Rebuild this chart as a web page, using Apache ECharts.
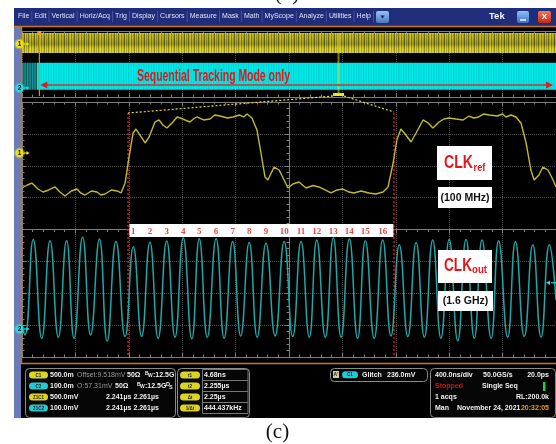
<!DOCTYPE html>
<html>
<head>
<meta charset="utf-8">
<script src="https://cdn.jsdelivr.net/npm/echarts@6/dist/echarts.min.js"></script>
<style>
  html, body { margin: 0; padding: 0; background: #fff; }
  #scope { width: 556px; height: 444px; }
</style>
</head>
<body>
<div id="scope"></div>
<script>
// ---- acquired data -------------------------------------------------------
// CH1, CLKref (100 MHz): [time ns, amplitude mV], zoomed window
const clkRef = [
  [-10.00,-549],[-9.80,-502],[-9.63,-471],[-9.40,-565],[-9.21,-612],[-9.00,-580],[-8.76,-533],
  [-8.58,-612],[-8.39,-675],[-8.15,-596],[-7.94,-565],[-7.80,-627],[-7.64,-659],[-7.40,-596],
  [-7.19,-612],[-7.05,-659],[-6.89,-643],[-6.65,-580],[-6.44,-596],[-6.29,-627],[-6.14,-471],
  [-5.99,-63],[-5.84,314],[-5.73,376],[-5.58,282],[-5.39,157],[-5.24,251],
  [-5.02,486],[-4.87,518],[-4.72,439],[-4.57,392],[-4.38,471],[-4.19,565],
  [-3.97,533],[-3.71,486],[-3.58,533],[-3.45,565],[-3.20,518],[-2.96,533],[-2.78,596],[-2.58,580],
  [-2.30,549],[-2.10,565],[-1.85,596],[-1.70,565],[-1.57,612],[-1.39,549],[-1.20,361],
  [-1.05,0],[-0.90,-376],[-0.79,-424],[-0.56,-220],[-0.37,-267],[-0.22,-392],
  [-0.04,-549],[0.15,-486],[0.37,-455],[0.64,-549],[0.90,-510],[1.12,-533],
  [1.35,-580],[1.57,-627],[1.80,-580],[2.02,-565],[2.25,-612],[2.43,-627],[2.70,-596],[3.00,-627],
  [3.25,-643],[3.52,-612],[3.71,-533],[3.90,-157],[4.04,204],[4.19,376],[4.38,282],
  [4.57,173],[4.76,314],[5.02,518],[5.21,471],[5.39,392],[5.62,486],
  [5.80,533],[5.99,549],[6.25,533],[6.52,518],[6.74,580],[6.92,549],[7.10,565],[7.30,612],[7.49,596],
  [7.80,580],[8.00,612],[8.13,565],[8.32,596],[8.50,565],[8.69,471],[8.88,157],[9.06,-267],
  [9.18,-424],[9.36,-345],[9.51,-220],[9.70,-267],[9.89,-424],[10.00,-533]
];

// CH2, CLKout (1.6 GHz): turning points of the sine, [time ns, amplitude mV]
const clkOut = [
  [-10.00,3],[-9.89,-19],[-9.58,281],[-9.26,-29],[-8.95,277],[-8.64,-26],
  [-8.33,277],[-8.05,-29],[-7.73,288],[-7.43,-19],[-7.10,282],[-6.81,-38],
  [-6.48,274],[-6.14,-24],[-5.83,258],[-5.52,-24],[-5.21,272],[-4.90,-29],
  [-4.58,276],[-4.27,-26],[-3.96,285],[-3.64,-31],[-3.36,283],[-3.06,-26],
  [-2.73,283],[-2.43,-29],[-2.11,274],[-1.81,-22],[-1.49,271],[-1.19,-26],
  [-0.86,269],[-0.52,-22],[-0.18,274],[0.14,-24],[0.45,274],[0.76,-26],
  [1.04,279],[1.36,-26],[1.66,285],[1.95,-26],[2.26,282],[2.57,-29],
  [2.86,277],[3.19,-29],[3.51,279],[3.82,-22],[4.13,264],[4.45,-24],
  [4.76,271],[5.07,-26],[5.38,279],[5.69,-29],[6.00,281],[6.32,-37],
  [6.63,281],[6.94,-29],[7.23,279],[7.57,-29],[7.85,277],[8.19,-26],
  [8.48,274],[8.81,-24],[9.13,264],[9.44,-26],[9.75,264],[10.00,91]
];

// rising edges of CLKref (red cursors), ns
const edgeTime = [-6.03, 3.93];
// CH2 trigger level, mV
const ch2TriggerMv = 145;

// overview record, ns
const recordNs = [0, 4000];
const triggerNs = 130;
const zoomWindowNs = [2330, 2412];
// overview envelopes, mV
const refEnvelope = [-500, 600];
const outEnvelope = [-20, 280];

// ---- texts ---------------------------------------------------------------
const menuItems = ['File','Edit','Vertical','Horiz/Acq','Trig','Display','Cursors',
  'Measure','Mask','Math','MyScope','Analyze','Utilities','Help'];
const cursorNames = ['t1', 't2', '\u0394t', '1/\u0394t'];
const cursorValues = ['4.68ns', '2.255\u00b5s', '2.25\u00b5s', '444.437kHz'];

const SANS = '"Liberation Sans", Arial, sans-serif';
const SERIF = '"Liberation Serif", "Times New Roman", serif';

const chart = echarts.init(document.getElementById('scope'), null, { renderer: 'canvas' });

// ---- helpers -------------------------------------------------------------
function stripePattern(cols) {
  const c = document.createElement('canvas');
  c.width = cols.length; c.height = 4;
  const g = c.getContext('2d');
  cols.forEach((col, i) => { g.fillStyle = col; g.fillRect(i, 0, 1, 4); });
  return { image: c, repeat: 'repeat' };
}
const yellowFill = stripePattern(['#d6ce2c','#8c881a','#c9c128','#b2ac22','#6c6812',
  '#d2ca2a','#9e981e','#c6be26','#7a7616','#bab424']);
const tealFill = stripePattern(['#14828a','#0a5c64','#1a9298','#0e6c72','#127a80']);
const cyanFill = stripePattern(['#00e6e6','#00dcdc','#04e8e8','#00d4d6','#00e2e2']);

const frame = '#7d7d7d';
const dots = '#505050';
function frameAxis(extra) {
  return Object.assign({
    type: 'value',
    axisLine: { show: true, onZero: false, lineStyle: { color: frame, width: 1 } },
    axisTick: { show: true, inside: true, length: 4, lineStyle: { color: frame } },
    minorTick: { show: true, splitNumber: 5, length: 2.5, lineStyle: { color: frame } },
    axisLabel: { show: false },
    splitLine: { show: false }
  }, extra);
}
const dotted = { show: true, lineStyle: { color: dots, type: 'dotted', width: 1 } };

function bandRenderer(fill, overlay) {
  return function (params, api) {
    const a = api.coord([api.value(0), api.value(3)]);
    const b = api.coord([api.value(1), api.value(2)]);
    const shape = { x: a[0], y: a[1], width: b[0] - a[0], height: b[1] - a[1] };
    const kids = [{ type: 'rect', shape, style: { fill: api.value(4) === 1 ? tealFill : fill } }];
    if (overlay) kids.push({ type: 'rect', shape, style: { fill: overlay } });
    return { type: 'group', children: kids };
  };
}

const cyclePeaks = clkOut.filter(p => p[1] > 150 && p[0] > edgeTime[0] && p[0] < edgeTime[1]);
const numberRowMv = 305;

chart.setOption({
  backgroundColor: '#fff',
  animation: false,
  textStyle: { fontFamily: SANS },
  grid: [
    { left: 22, top: 102, width: 534, height: 255, outerBoundsMode: 'none' },
    { left: 22, top: 31, width: 534, height: 66, outerBoundsMode: 'none' }
  ],
  xAxis: [
    frameAxis({ gridIndex: 0, min: -10, max: 10, interval: 2, position: 'bottom', splitLine: dotted }),
    frameAxis({ gridIndex: 0, min: -10, max: 10, interval: 2, position: 'top' }),
    frameAxis({ gridIndex: 0, min: -10, max: 10, interval: 2,
      axisLine: { show: true, onZero: true, onZeroAxisIndex: 0, lineStyle: { color: frame } } }),
    frameAxis({ gridIndex: 1, min: recordNs[0], max: recordNs[1], interval: 400, position: 'bottom', splitLine: dotted }),
    frameAxis({ gridIndex: 1, min: recordNs[0], max: recordNs[1], interval: 400, position: 'top' })
  ],
  yAxis: [
    frameAxis({ gridIndex: 0, min: -4, max: 4, interval: 1, position: 'left', splitLine: dotted }),
    frameAxis({ gridIndex: 0, min: -4, max: 4, interval: 1,
      axisLine: { show: true, onZero: true, onZeroAxisIndex: 0, lineStyle: { color: frame } } }),
    { gridIndex: 0, type: 'value', min: -3200, max: 800, show: false },
    { gridIndex: 0, type: 'value', min: -88, max: 712, show: false },
    { gridIndex: 1, type: 'value', min: -2915, max: 715, show: false },
    { gridIndex: 1, type: 'value', min: -100, max: 631, show: false }
  ],
  series: [
    {
      name: 'CLKref', type: 'line', xAxisIndex: 0, yAxisIndex: 2, data: clkRef,
      symbol: 'none', z: 5,
      lineStyle: { color: '#c2ba2a', width: 1.4 },
      markLine: {
        silent: true, symbol: 'none', label: { show: false },
        lineStyle: { color: '#e8121a', type: [2, 2], width: 1.5 },
        data: edgeTime.map(t => [{ coord: [t, 627] }, { coord: [t, -3200] }])
      }
    },
    {
      name: 'CLKout', type: 'line', xAxisIndex: 0, yAxisIndex: 3, data: clkOut,
      symbol: 'none', smooth: 0.5, z: 5,
      lineStyle: { color: '#1fa8a8', width: 1.5 }
    },
    {
      name: 'cycles', type: 'scatter', xAxisIndex: 0, yAxisIndex: 3, z: 30,
      data: cyclePeaks.map(p => [p[0], numberRowMv]),
      symbolSize: 1, itemStyle: { color: 'rgba(0,0,0,0)' },
      label: { show: true, position: 'inside', formatter: p => String(p.dataIndex + 1),
        color: '#e01818', fontFamily: SERIF, fontSize: 9, fontWeight: 'bold' }
    },
    {
      name: 'CH1 record', type: 'custom', xAxisIndex: 3, yAxisIndex: 4, z: 3,
      data: [[recordNs[0], recordNs[1], refEnvelope[0], refEnvelope[1], 0]],
      renderItem: bandRenderer(yellowFill, new echarts.graphic.LinearGradient(0, 0, 0, 1, [
        { offset: 0, color: 'rgba(255,250,90,0.25)' },
        { offset: 0.2, color: 'rgba(0,0,0,0.05)' },
        { offset: 0.55, color: 'rgba(0,0,0,0.2)' },
        { offset: 0.75, color: 'rgba(255,250,60,0.2)' },
        { offset: 1, color: 'rgba(255,250,60,0.3)' }
      ]))
    },
    {
      name: 'CH2 record', type: 'custom', xAxisIndex: 3, yAxisIndex: 5, z: 3,
      data: [
        [recordNs[0], 112, outEnvelope[0], outEnvelope[1], 1],
        [112, recordNs[1], outEnvelope[0], outEnvelope[1], 0]
      ],
      renderItem: bandRenderer(cyanFill, null)
    }
  ]
});

// ---- screen furniture ----------------------------------------------------
const px = t => chart.convertToPixel({ xAxisIndex: 0 }, t);
const opx = t => chart.convertToPixel({ xAxisIndex: 3 }, t);
const py = (axis, v) => chart.convertToPixel({ yAxisIndex: axis }, v);
const meas = document.createElement('canvas').getContext('2d');
function textWidth(font, s) { meas.font = font; return meas.measureText(s).width; }

function T(x, y, text, o) {
  o = o || {};
  const font = (o.weight || 'bold') + ' ' + (o.size || 7) + 'px ' + (o.family || SANS);
  const el = { type: 'text', x, y, z: o.z || 60, silent: true,
    style: { text, fill: o.color || '#f0f0f0', font,
      align: o.align || 'left', verticalAlign: o.valign || 'middle' } };
  // condensed lettering: squeeze the run to the given width
  if (o.fitWidth) el.scaleX = o.fitWidth / textWidth(font, text);
  return el;
}
function R(x, y, w, h, fill, o) {
  o = o || {};
  return { type: 'rect', z: o.z || 50, silent: true,
    shape: { x, y, width: w, height: h, r: o.r || 0 },
    style: { fill, stroke: o.stroke || null, lineWidth: o.lw || 1 } };
}
function L(x1, y1, x2, y2, stroke, o) {
  o = o || {};
  return { type: 'line', z: o.z || 50, silent: true, shape: { x1, y1, x2, y2 },
    style: { stroke, lineWidth: o.lw || 1, lineDash: o.dash || null } };
}
function pill(x, y, w, color, label) {
  return [R(x, y - 3.5, w, 7, color, { r: 3.5, z: 61 }),
    T(x + w / 2, y + 0.3, label, { size: 4.5, color: '#202020', align: 'center', z: 62 })];
}
function marker(cy, color, label) {
  return [
    { type: 'circle', z: 60, silent: true, shape: { cx: 19.5, cy, r: 5.5 }, style: { fill: color, opacity: 0.35 } },
    { type: 'circle', z: 61, silent: true, shape: { cx: 19.5, cy, r: 4.2 }, style: { fill: color } },
    T(19.5, cy + 0.3, label, { size: 6.5, color: '#111', align: 'center', z: 62 }),
    L(24, cy, 27, cy, color, { lw: 1.2, z: 61 }),
    { type: 'polygon', z: 61, silent: true, shape: { points: [[26.5, cy - 2], [29.5, cy], [26.5, cy + 2]] }, style: { fill: color } }
  ];
}

const g = [];
// backdrop
g.push(R(14, 25, 7, 393, '#6a7bb8', { z: -10 }));
g.push(R(21, 26, 535, 392, '#000', { z: -10 }));
g.push(R(14, 8, 542, 18, '#1f2d7b', { z: -10 }));
g.push(L(14, 26.5, 556, 26.5, '#c57a12', { lw: 1.5, z: 55 }));
g.push(L(21.5, 26, 21.5, 364, '#c57a12', { lw: 1.5, z: 55 }));
g.push(L(21, 363.5, 556, 363.5, '#c57a12', { lw: 1.5, z: 55 }));

// menu bar
const menuFont = '7px ' + SANS;
const widths = menuItems.map(s => textWidth(menuFont, s));
const menuLeft = 18, menuRight = 371;
const gap = (menuRight - menuLeft - widths.reduce((a, b) => a + b, 0)) / (menuItems.length - 1);
let mx = menuLeft;
menuItems.forEach((s, i) => {
  g.push(T(mx, 16.5, s, { weight: 'normal', color: '#dfe3f2' }));
  mx += widths[i];
  g.push(L(mx + gap / 2, 11, mx + gap / 2, 22, '#44549a', { z: 58 }));
  mx += gap;
});
g.push({ type: 'rect', z: 58, silent: true, shape: { x: 376, y: 11, width: 13, height: 12, r: 2 },
  style: { fill: new echarts.graphic.LinearGradient(0, 0, 0, 1, [{ offset: 0, color: '#9cc0f0' }, { offset: 1, color: '#4a78c4' }]) } });
g.push({ type: 'polygon', z: 59, silent: true, shape: { points: [[380.5, 15.5], [384.5, 15.5], [382.5, 18.5]] }, style: { fill: '#0d1f5a' } });
g.push(T(489, 16.5, 'Tek', { size: 9.5, color: '#f4f4f4' }));
g.push({ type: 'rect', z: 58, silent: true, shape: { x: 517, y: 11, width: 12, height: 12, r: 2 },
  style: { fill: new echarts.graphic.LinearGradient(0, 0, 0, 1, [{ offset: 0, color: '#8fc0f8' }, { offset: 1, color: '#3a6ed0' }]) } });
g.push(L(520, 20, 526, 20, '#fff', { lw: 1.5, z: 59 }));
g.push({ type: 'rect', z: 58, silent: true, shape: { x: 538, y: 11, width: 13, height: 12, r: 2 },
  style: { fill: new echarts.graphic.LinearGradient(0, 0, 0, 1, [{ offset: 0, color: '#f27a5a' }, { offset: 1, color: '#c8260f' }]) } });
g.push(T(544.5, 17, 'X', { size: 8, align: 'center', color: '#fff', z: 59 }));

// figure captions
g.push(T(287, -6, '(b)', { weight: 'normal', size: 21, family: SERIF, color: '#111', align: 'center' }));
g.push(T(277.5, 432.5, '(c)', { weight: 'normal', size: 21, family: SERIF, color: '#111', align: 'center' }));

// overview decorations
const trigX = opx(triggerNs);
g.push(L(trigX, 33, trigX, 96, '#e0901a', { lw: 1.2, z: 45 }));
g.push(R(trigX - 2, 31, 4, 4, '#f0a030', { z: 46 }));
const zx0 = opx(zoomWindowNs[0]), zx1 = opx(zoomWindowNs[1]);
g.push(L((zx0 + zx1) / 2, 33, (zx0 + zx1) / 2, 93, 'rgba(230,225,40,0.55)', { lw: 2, z: 45 }));
g.push(R(zx0, 93, zx1 - zx0, 3, '#ece428', { z: 46 }));
// double arrow across the tracking span
const arrY = 85, arrL = trigX + 1, arrR = 553;
g.push(L(arrL + 4, arrY, arrR - 4, arrY, '#a45a5a', { lw: 2, z: 47 }));
g.push({ type: 'polygon', z: 48, silent: true, shape: { points: [[arrL, arrY], [arrL + 7, arrY - 3.5], [arrL + 7, arrY + 3.5]] }, style: { fill: '#e81818' } });
g.push({ type: 'polygon', z: 48, silent: true, shape: { points: [[arrR, arrY], [arrR - 7, arrY - 3.5], [arrR - 7, arrY + 3.5]] }, style: { fill: '#e81818' } });
g.push(T(137, 76.5, 'Sequential Tracking Mode only', { size: 16, color: '#e3141c', z: 49, fitWidth: 153 }));

// zoom connectors to the main window
const e0 = px(edgeTime[0]), e1 = px(edgeTime[1]);
const cursorTop = py(2, 627);
g.push(L(zx0, 96, e0, cursorTop, '#e8e020', { lw: 1.2, dash: [2, 2], z: 45 }));
g.push(L(zx1, 96, e1, cursorTop - 1, '#e8e020', { lw: 1.2, dash: [2, 2], z: 45 }));

// cycle counter strip
g.push(R(e0 + 1.5, 224, e1 - e0 - 2, 13, '#ffffff', { z: 10 }));

// channel labels
g.push(R(437, 146, 55, 34, '#ffffff', { z: 40 }));
g.push(T(444, 163, 'CLK', { size: 18, color: '#e8141c', z: 41, fitWidth: 29 }));
g.push(T(473.5, 167.5, 'ref', { size: 11, color: '#e8141c', z: 41, fitWidth: 12 }));
g.push(R(438, 187, 54, 21, '#ffffff', { z: 40 }));
g.push(T(465, 198, '(100 MHz)', { size: 10.5, color: '#111', align: 'center', z: 41 }));
g.push(R(438, 250, 54, 33, '#ffffff', { z: 40 }));
g.push(T(444, 266, 'CLK', { size: 18, color: '#e8141c', z: 41, fitWidth: 28 }));
g.push(T(472, 270, 'out', { size: 11, color: '#e8141c', z: 41, fitWidth: 15 }));
g.push(R(438, 291, 55, 20, '#ffffff', { z: 40 }));
g.push(T(465.5, 301.5, '(1.6 GHz)', { size: 10.5, color: '#111', align: 'center', z: 41 }));

// channel offset markers
g.push(...marker(py(2, 0), '#e8e020', '1'));
g.push(...marker(py(3, 0), '#2ed6de', '2'));
g.push(...marker(py(4, 0), '#e8e020', '1'));
g.push(...marker(py(5, 0), '#2ed6de', '2'));
const trigY = py(3, ch2TriggerMv);
g.push(L(551, trigY, 556, trigY, '#2ed6de', { lw: 1.2, z: 60 }));
g.push({ type: 'polygon', z: 60, silent: true, shape: { points: [[546, trigY], [550, trigY - 2.2], [550, trigY + 2.2]] }, style: { fill: '#2ed6de' } });

// ---- status panels -------------------------------------------------------
const rows = [375, 386, 397, 408];
const panel = (x, y, w, h) => R(x + 0.5, y + 0.5, w, h, '#050505', { stroke: '#8a8a8a', r: 4, z: 58 });
g.push(panel(25, 368, 150, 49));
g.push(...pill(29, rows[0], 19, '#dcd424', 'C1'));
g.push(...pill(29, rows[1], 19, '#28c8d2', 'C2'));
g.push(...pill(29, rows[2], 19, '#dcd424', 'Z1C1'));
g.push(...pill(29, rows[3], 19, '#28c8d2', 'Z1C2'));
g.push(T(50, rows[0], '500.0m'), T(77, rows[0], 'Offset:9.518mV', { weight: 'normal', color: '#9a9a9a' }),
  T(127, rows[0], '50\u03a9'), T(145, rows[0] - 1.5, 'B', { size: 5 }), T(148, rows[0] + 1, 'W', { size: 5 }),
  T(153, rows[0], ':12.5G'));
g.push(T(50, rows[1], '100.0m'), T(77, rows[1], 'O:57.31mV', { weight: 'normal', color: '#9a9a9a' }),
  T(115, rows[1], '50\u03a9'), T(137, rows[1] - 1.5, 'B', { size: 5 }), T(140, rows[1] + 1, 'W', { size: 5 }),
  T(145, rows[1], ':12.5G'), T(166, rows[1] - 1.5, 'D', { size: 5.5 }), T(169, rows[1] + 1, 'S', { size: 5.5 }));
g.push(T(50, rows[2], '500.0mV'), T(106, rows[2], '2.241\u00b5s 2.261\u00b5s'));
g.push(T(50, rows[3], '100.0mV'), T(106, rows[3], '2.241\u00b5s 2.261\u00b5s'));

g.push(panel(177, 368, 72, 49));
cursorNames.forEach((n, i) => {
  g.push(...pill(180, rows[i], 20, '#dcd424', n));
  g.push(R(202.5, rows[i] - 5.5, 45.5, 11, null, { stroke: '#777', z: 59 }));
  g.push(T(204, rows[i], cursorValues[i]));
});

g.push(panel(330, 368, 97, 13));
g.push(R(333, 371, 6, 7, '#d8c8a8', { z: 61 }), T(336, 374.8, "A'", { size: 5, color: '#222', align: 'center', z: 62 }));
g.push(...pill(342, 374.8, 16, '#28c8d2', 'C1'));
g.push(T(362, 374.8, 'Glitch'), T(387, 374.8, '236.0mV'));

g.push(panel(430, 368, 125, 49));
g.push(T(435, rows[0], '400.0ns/div'), T(483, rows[0], '50.0GS/s'), T(549, rows[0], '20.0ps', { align: 'right' }));
g.push(T(435, rows[1], 'Stopped', { color: '#d01010' }), T(482, rows[1], 'Single Seq'));
g.push(R(543, 382, 2.5, 9, '#22d044', { z: 61 }));
g.push(T(435, rows[2], '1 acqs'), T(549, rows[2], 'RL:200.0k', { align: 'right' }));
g.push(T(435, rows[3], 'Man'), T(457, rows[3], 'November 24, 2021'), T(549, rows[3], '20:32:05', { align: 'right', color: '#e0a020' }));

chart.setOption({ graphic: { elements: g } });
</script>
</body>
</html>
